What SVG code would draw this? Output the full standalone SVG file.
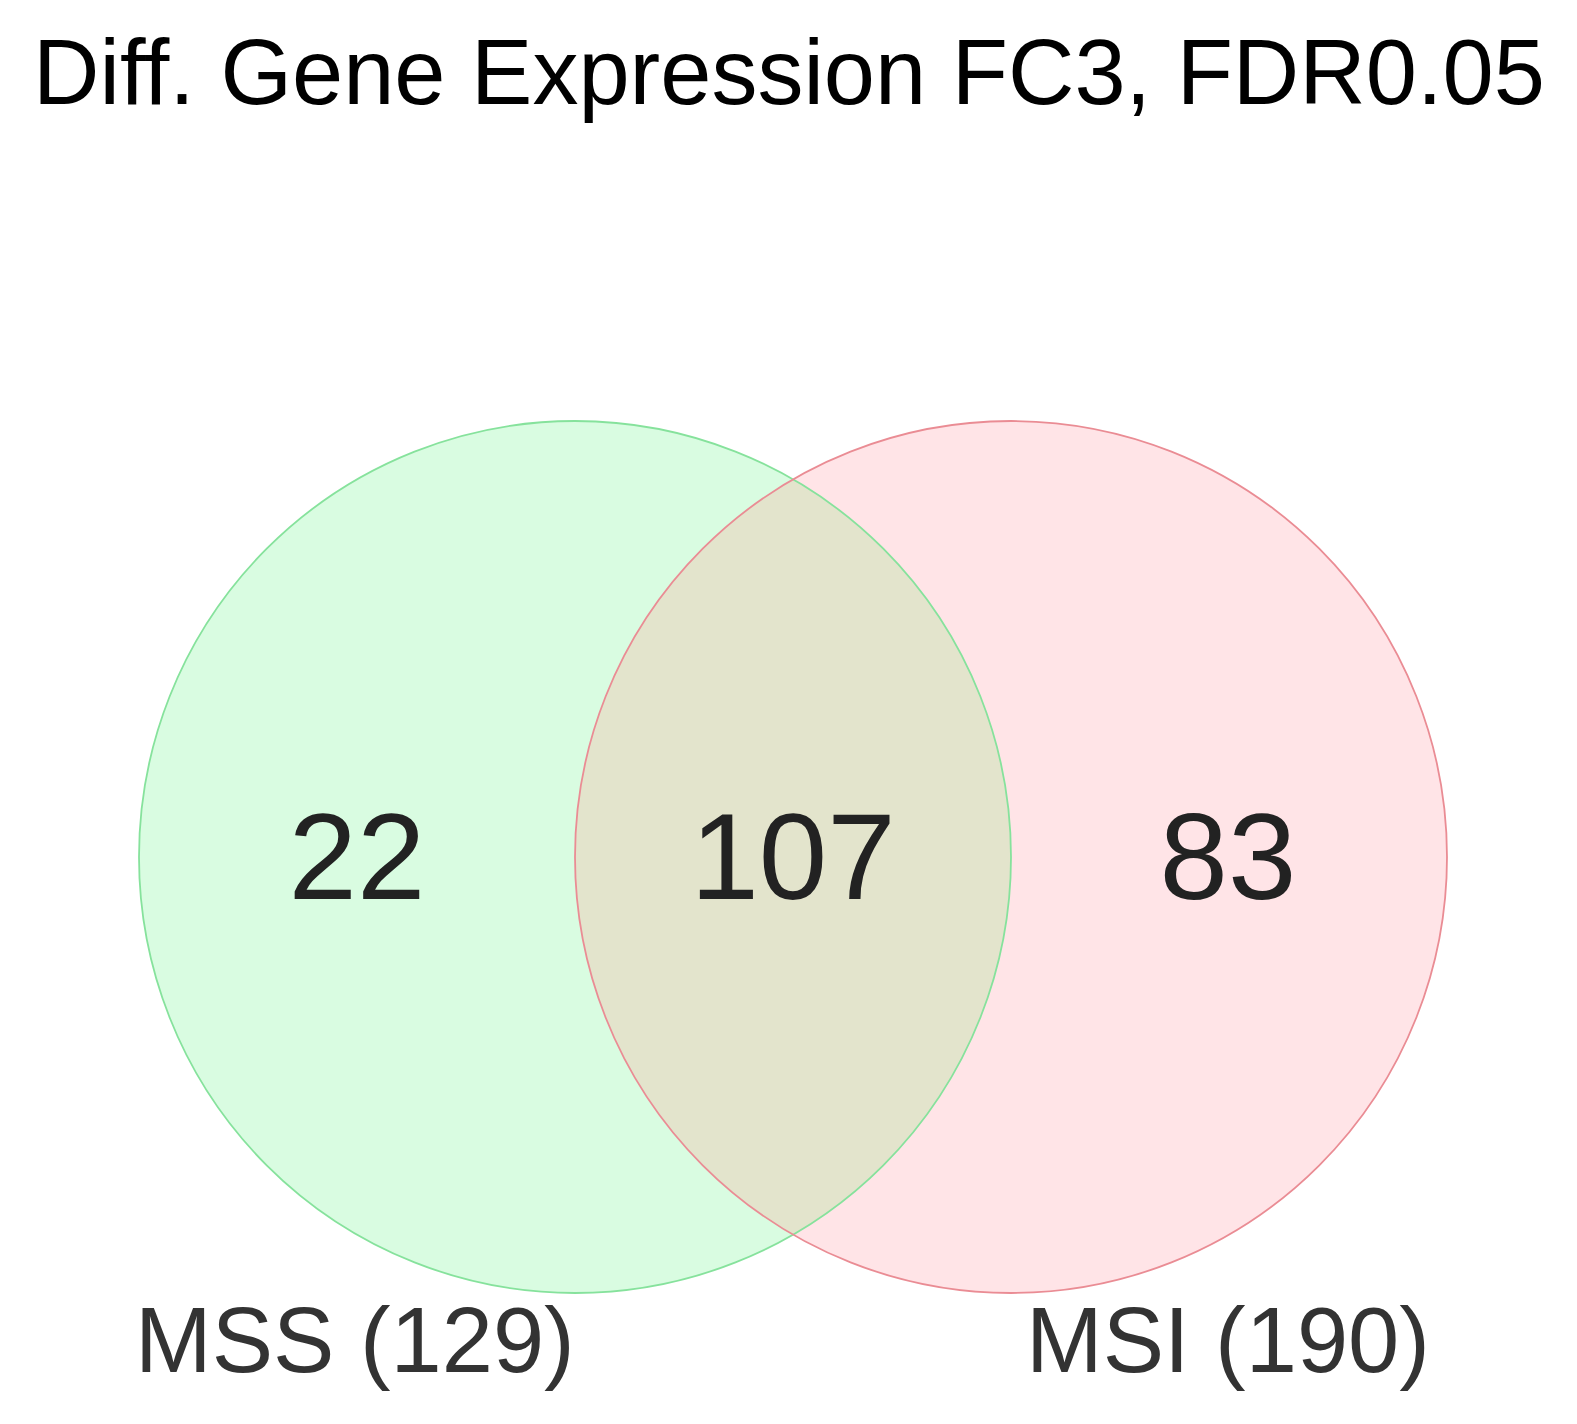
<svg xmlns="http://www.w3.org/2000/svg" width="1577" height="1424" viewBox="0 0 1577 1424">
  <style>
    text { font-family: "Liberation Sans", Arial, sans-serif; }
    .title { font-size: 92px; fill: #000; }
    .count { font-size: 123px; fill: #222; text-anchor: middle; }
    .label { font-size: 92px; fill: #333; }
    .outline { fill: none; stroke-width: 1.8; }
  </style>
  <rect width="1577" height="1424" fill="#fff"/>
  <text class="title" x="33" y="104">Diff. Gene Expression FC3, FDR0.05</text>
  <g id="set-mss">
    <circle cx="575" cy="857" r="436" fill="#d9fce1"/>
  </g>
  <g id="set-msi">
    <circle cx="1011" cy="857" r="436" fill="#ffe4e7"/>
  </g>
  <g id="overlap">
    <path d="M793 479.4 A436 436 0 0 1 793 1234.6 A436 436 0 0 1 793 479.4 Z" fill="#e3e4cc"/>
  </g>
  <g id="outlines">
    <circle class="outline" cx="575" cy="857" r="436" stroke="#86e29c"/>
    <circle class="outline" cx="1011" cy="857" r="436" stroke="#ea8c94"/>
  </g>
  <g id="counts">
    <text class="count" x="357" y="899">22</text>
    <text class="count" x="793" y="899">107</text>
    <text class="count" x="1228" y="899">83</text>
  </g>
  <g id="labels">
    <text class="label" x="135" y="1372">MSS (129)</text>
    <text class="label" x="1026" y="1372">MSI (190)</text>
  </g>
</svg>
